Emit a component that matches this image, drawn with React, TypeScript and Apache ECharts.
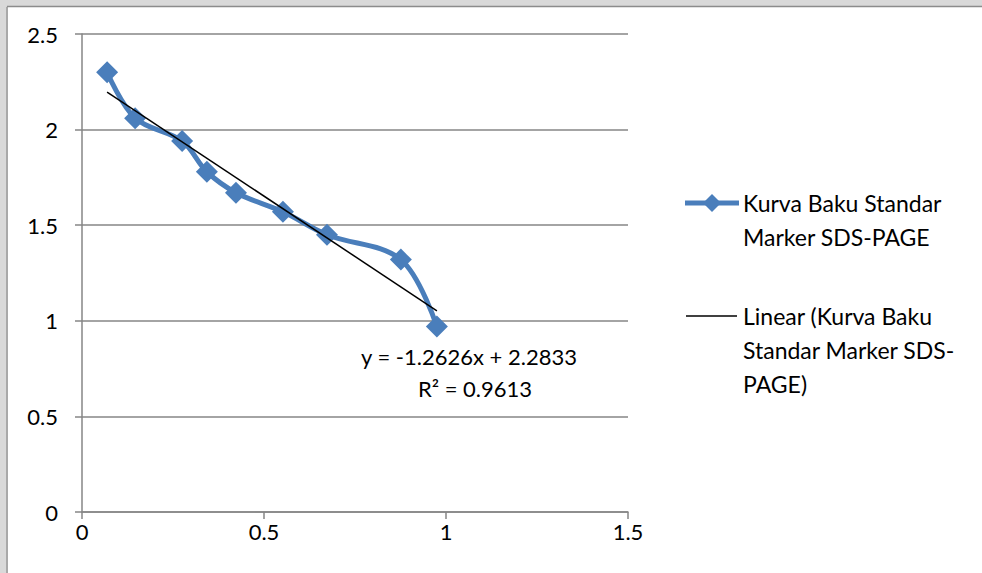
import React, { useEffect, useRef } from "react";
import * as echarts from "echarts";

const xValues = [0.069, 0.146, 0.275, 0.343, 0.423, 0.552, 0.673, 0.876, 0.975];
const yValues = [2.30, 2.06, 1.94, 1.78, 1.67, 1.57, 1.45, 1.32, 0.97];
const slope = -1.2626;
const intercept = 2.2833;
const seriesName = "Kurva Baku Standar Marker SDS-PAGE";
const trendName = "Linear (Kurva Baku Standar Marker SDS-PAGE)";
const equationText = "y = -1.2626x + 2.2833";
const r2Text = "R² = 0.9613";

const FONT = "Lato, 'Open Sans', sans-serif";
const FS = 22;
const LFS = 23;
const BLUE = "#4a7ebb";

export default function App() {
  const ref = useRef<HTMLDivElement>(null);
  useEffect(() => {
    if (!ref.current) return;
    const chart = echarts.init(ref.current, null, { renderer: "svg" });
    const pts = xValues.map((x, i) => [x, yValues[i]]);
    const xMin = Math.min(...xValues);
    const xMax = Math.max(...xValues);
    const trend = [
      [xMin, slope * xMin + intercept],
      [xMax, slope * xMax + intercept],
    ];
    chart.setOption({
      animation: false,
      backgroundColor: "#ffffff",
      grid: { left: 82, right: 354, top: 34, bottom: 61 },
      xAxis: {
        type: "value",
        min: 0,
        max: 1.5,
        interval: 0.5,
        axisLine: { show: true, lineStyle: { color: "#868686", width: 1.5 } },
        axisTick: { show: true, length: 7, lineStyle: { color: "#868686", width: 1.5 } },
        axisLabel: { color: "#000", fontSize: FS, fontFamily: FONT, margin: 8 },
        splitLine: { show: false },
      },
      yAxis: {
        type: "value",
        min: 0,
        max: 2.5,
        interval: 0.5,
        axisLine: { show: true, lineStyle: { color: "#868686", width: 1.5 } },
        axisTick: { show: true, length: 7, lineStyle: { color: "#868686", width: 1.5 } },
        axisLabel: { color: "#000", fontSize: FS, fontFamily: FONT, margin: 24 },
        splitLine: { show: true, lineStyle: { color: "#868686", width: 1.5 } },
      },
      series: [
        {
          name: seriesName,
          type: "line",
          data: pts,
          smooth: 0.35,
          symbol: "diamond",
          symbolSize: 22,
          lineStyle: { color: BLUE, width: 5 },
          itemStyle: { color: BLUE },
          z: 2,
        },
        {
          name: trendName,
          type: "line",
          data: trend,
          symbol: "none",
          lineStyle: { color: "#000", width: 1.5 },
          z: 3,
        },
      ],
      graphic: [
        { type: "rect", shape: { x: 0, y: 0, width: 982, height: 6 }, style: { fill: "#d9d9d9" } },
        { type: "rect", shape: { x: 0, y: 0, width: 6, height: 573 }, style: { fill: "#d9d9d9" } },
        { type: "line", shape: { x1: 7, y1: 6.5, x2: 982, y2: 6.5 }, style: { stroke: "#8c8c8c", lineWidth: 1.5 } },
        { type: "line", shape: { x1: 7, y1: 6.5, x2: 7, y2: 573 }, style: { stroke: "#8c8c8c", lineWidth: 1.5 } },
        // legend item 1
        { type: "line", shape: { x1: 685, y1: 203, x2: 739, y2: 203 }, style: { stroke: BLUE, lineWidth: 5 } },
        { type: "polygon", shape: { points: [[712, 194], [721, 203], [712, 212], [703, 203]] }, style: { fill: BLUE } },
        { type: "text", x: 743, y: 220, style: { text: "Kurva Baku Standar\nMarker SDS-PAGE", font: `${LFS}px ${FONT}`, fill: "#000", lineHeight: 34, verticalAlign: "middle" } },
        // legend item 2
        { type: "line", shape: { x1: 686, y1: 316, x2: 737, y2: 316 }, style: { stroke: "#000", lineWidth: 1.5 } },
        { type: "text", x: 743, y: 350, style: { text: "Linear (Kurva Baku\nStandar Marker SDS-\nPAGE)", font: `${LFS}px ${FONT}`, fill: "#000", lineHeight: 34, verticalAlign: "middle" } },
        // equation
        { type: "text", x: 469, y: 356, style: { text: equationText, font: `${FS}px ${FONT}`, fill: "#000", align: "center", verticalAlign: "middle" } },
        { type: "text", x: 475, y: 388, style: { text: r2Text, font: `${FS}px ${FONT}`, fill: "#000", align: "center", verticalAlign: "middle" } },
      ],
    });
    return () => chart.dispose();
  }, []);
  return <div ref={ref} style={{ width: 982, height: 573, position: "fixed", left: 0, top: 0 }} />;
}
